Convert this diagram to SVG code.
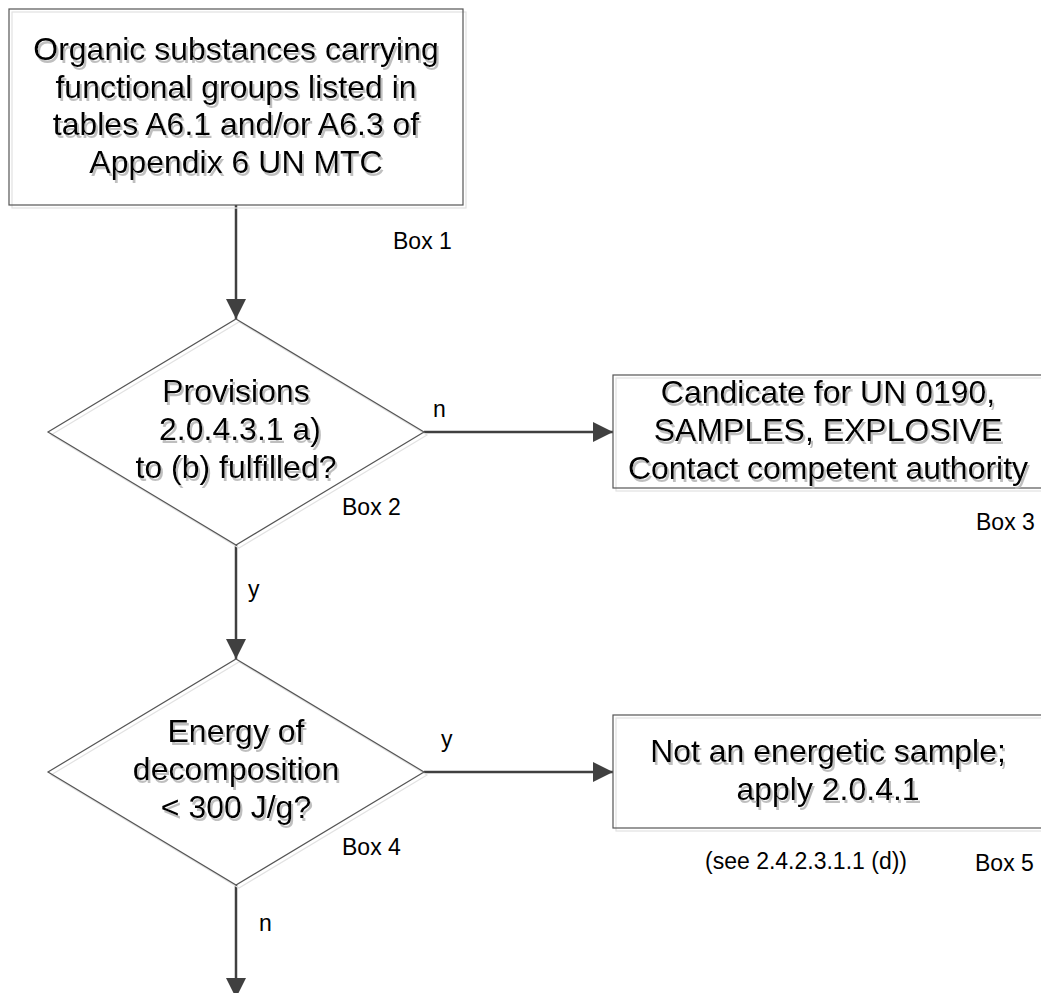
<svg xmlns="http://www.w3.org/2000/svg" width="1041" height="993" viewBox="0 0 1041 993">
<style>
  .shape { fill: none; stroke: #555555; stroke-width: 1.2; }
  .shadow { fill: none; stroke: #e2e2e2; stroke-width: 1.2; }
  .main { font-family: "Liberation Sans", Arial, sans-serif; font-size: 32px; fill: #000; text-anchor: middle; }
  .lbl { font-family: "Liberation Sans", Arial, sans-serif; font-size: 23px; fill: #000; }
  .conn { stroke: #404040; stroke-width: 2.5; fill: none; }
</style>
<defs>
  <filter id="ts" x="-10%" y="-10%" width="130%" height="140%">
    <feDropShadow dx="2" dy="3" stdDeviation="0.6" flood-color="#b8b8b8" flood-opacity="0.9"/>
  </filter>
  <marker id="arr" markerUnits="userSpaceOnUse" markerWidth="20" markerHeight="20" viewBox="0 0 18 18" refX="18" refY="9" orient="auto">
    <path d="M0,0 L18,9 L0,18 Z" fill="#404040"/>
  </marker>
</defs>
<rect width="1041" height="993" fill="#ffffff"/>

<g id="connectors">
  <line class="conn" x1="236" y1="205" x2="236" y2="319" marker-end="url(#arr)"/>
  <line class="conn" x1="424" y1="432" x2="613" y2="432" marker-end="url(#arr)"/>
  <line class="conn" x1="236" y1="545" x2="236" y2="659" marker-end="url(#arr)"/>
  <line class="conn" x1="424" y1="772" x2="613" y2="772" marker-end="url(#arr)"/>
  <line class="conn" x1="236" y1="885" x2="236" y2="998" marker-end="url(#arr)"/>
  <text class="lbl" x="433" y="417">n</text>
  <text class="lbl" x="248" y="597">y</text>
  <text class="lbl" x="441" y="747">y</text>
  <text class="lbl" x="259" y="931">n</text>
</g>

<g id="box1">
  <rect class="shadow" x="12" y="12" width="454" height="196"/>
  <rect class="shape" x="9" y="9" width="454" height="196"/>
  <g filter="url(#ts)">
    <text class="main" x="236" y="60">Organic substances carrying</text>
    <text class="main" x="236" y="97.7">functional groups listed in</text>
    <text class="main" x="236" y="135.3">tables A6.1 and/or A6.3 of</text>
    <text class="main" x="236" y="173">Appendix 6 UN MTC</text>
  </g>
  <text class="lbl" x="393" y="249">Box 1</text>
</g>

<g id="box2">
  <polygon class="shadow" points="239,322 427,435 239,548 51,435"/>
  <polygon class="shape" points="236,319 424,432 236,545 48,432"/>
  <g filter="url(#ts)">
    <text class="main" x="236" y="402">Provisions</text>
    <text class="main" x="240" y="440">2.0.4.3.1 a)</text>
    <text class="main" x="236" y="478">to (b) fulfilled?</text>
  </g>
  <text class="lbl" x="342" y="515">Box 2</text>
</g>

<g id="box3">
  <rect class="shadow" x="616" y="378" width="430" height="113"/>
  <rect class="shape" x="613" y="375" width="430" height="113"/>
  <g filter="url(#ts)">
    <text class="main" x="828" y="403">Candicate for UN 0190,</text>
    <text class="main" x="828" y="441">SAMPLES, EXPLOSIVE</text>
    <text class="main" x="828" y="479">Contact competent authority</text>
  </g>
  <text class="lbl" x="976" y="530">Box 3</text>
</g>

<g id="box4">
  <polygon class="shadow" points="239,662 427,775 239,888 51,775"/>
  <polygon class="shape" points="236,659 424,772 236,885 48,772"/>
  <g filter="url(#ts)">
    <text class="main" x="236" y="742">Energy of</text>
    <text class="main" x="236" y="780">decomposition</text>
    <text class="main" x="236" y="818">&lt; 300 J/g?</text>
  </g>
  <text class="lbl" x="342" y="855">Box 4</text>
</g>

<g id="box5">
  <rect class="shadow" x="616" y="718" width="430" height="113"/>
  <rect class="shape" x="613" y="715" width="430" height="113"/>
  <g filter="url(#ts)">
    <text class="main" x="828" y="762">Not an energetic sample;</text>
    <text class="main" x="828" y="800">apply 2.0.4.1</text>
  </g>
  <text class="lbl" x="705" y="869">(see 2.4.2.3.1.1 (d))</text>
  <text class="lbl" x="975" y="871">Box 5</text>
</g>
</svg>
